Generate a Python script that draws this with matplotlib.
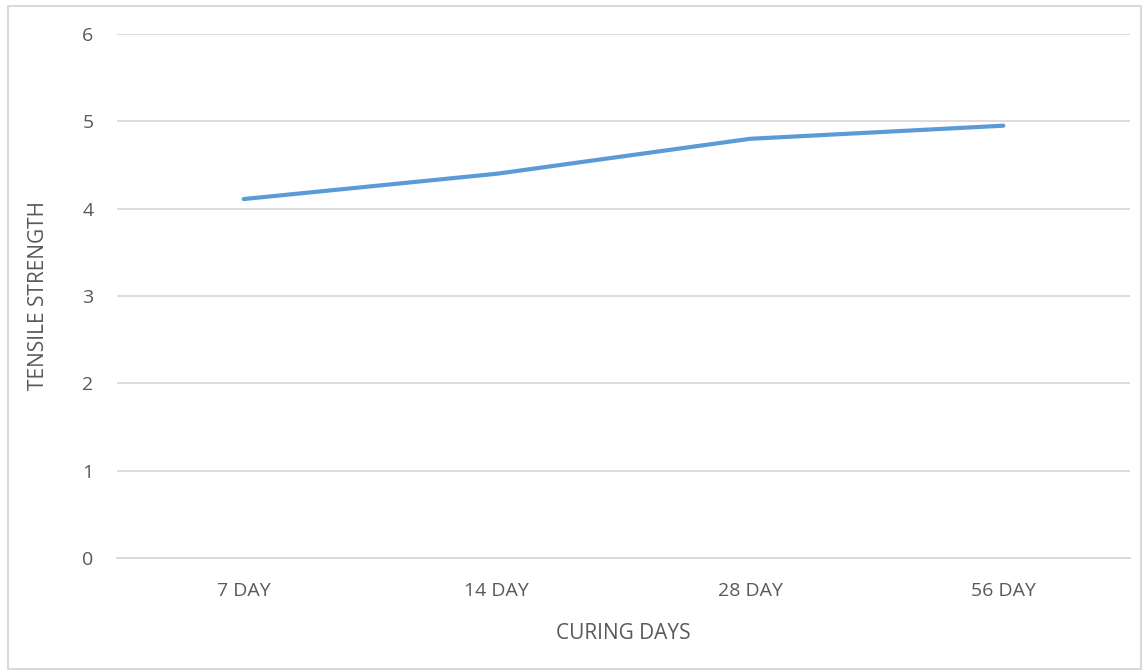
import matplotlib.pyplot as plt
from matplotlib.patches import Rectangle

days = ['7 DAY', '14 DAY', '28 DAY', '56 DAY']
strength = [4.11, 4.40, 4.80, 4.95]

plt.rcParams['font.family'] = ['Open Sans', 'DejaVu Sans']
txt = '#595959'

fig = plt.figure(figsize=(11.43, 6.70), dpi=100)
ax = fig.add_axes([117 / 1143, 1 - 558 / 670, (1130 - 117) / 1143, (558 - 34) / 670])

x = range(len(days))
ax.plot(x, strength, color='#5B9BD5', linewidth=3, solid_capstyle='round', zorder=3)

ax.set_xlim(-0.5, len(days) - 0.5)
ax.set_ylim(0, 6)
ax.set_yticks(range(0, 7))
ax.set_xticks(list(x))
ax.set_xticklabels(days)
ax.grid(axis='y', color='#D9D9D9', linewidth=1.3)
ax.set_axisbelow(True)
for s in ax.spines.values():
    s.set_visible(False)
ax.spines['bottom'].set_visible(True)
ax.spines['bottom'].set_color('#D9D9D9')
ax.spines['bottom'].set_linewidth(1.3)
ax.tick_params(length=0, labelsize=14, colors=txt)
ax.tick_params(axis='x', pad=17)
ax.tick_params(axis='y', pad=17)
ax.set_xlabel('CURING DAYS', fontsize=15, color=txt, labelpad=17)
ax.set_ylabel('TENSILE STRENGTH', fontsize=15, color=txt, labelpad=24)

fig.patches.append(Rectangle((8 / 1143, 1 - 669 / 670), 1133 / 1143, 663 / 670,
                             transform=fig.transFigure, fill=False,
                             edgecolor='#D9D9D9', linewidth=1.5))

fig.savefig('out.png', dpi=100)
